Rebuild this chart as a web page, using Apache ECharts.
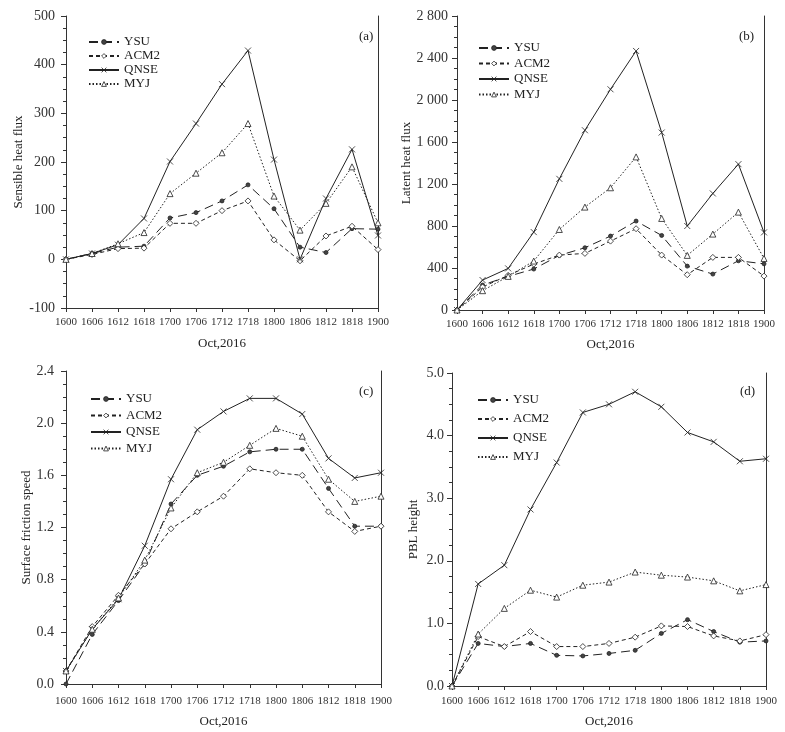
<!DOCTYPE html>
<html>
<head>
<meta charset="utf-8">
<script src="https://cdn.jsdelivr.net/npm/echarts@6/dist/echarts.min.js"></script>
<style>
html, body { margin: 0; padding: 0; background: #fff; }
#main { width: 785px; height: 732px; }
</style>
</head>
<body>
<div id="main"></div>
<script>
//时间类目
const hours = ['1600', '1606', '1612', '1618', '1700', '1706', '1712', '1718', '1800', '1806', '1812', '1818', '1900'];
const schemes = ['YSU', 'ACM2', 'QNSE', 'MYJ'];

//(a) 感热通量
const shfYSU  = [0, 12, 25, 27, 85, 96, 120, 153, 104, 25, 14, 63, 62];
const shfACM2 = [0, 10, 22, 23, 74, 74, 100, 120, 40, -3, 48, 68, 20];
const shfQNSE = [0, 12, 30, 84, 201, 279, 360, 429, 205, 0, 125, 226, 49];
const shfMYJ  = [0, 12, 32, 55, 135, 177, 219, 279, 130, 60, 115, 190, 75];

//(b) 潜热通量
const lhfYSU  = [0, 238, 320, 390, 520, 593, 704, 847, 710, 418, 342, 469, 440];
const lhfACM2 = [0, 219, 330, 437, 523, 539, 656, 774, 523, 336, 501, 501, 323];
const lhfQNSE = [0, 285, 396, 742, 1249, 1712, 2102, 2467, 1690, 800, 1110, 1389, 739];
const lhfMYJ  = [0, 184, 320, 466, 767, 980, 1164, 1458, 872, 520, 723, 932, 491];

//(c) 地表摩擦速度
const ustYSU  = [0.0, 0.38, 0.64, 0.92, 1.38, 1.60, 1.67, 1.78, 1.80, 1.80, 1.50, 1.21, 1.21];
const ustACM2 = [0.1, 0.44, 0.68, 0.92, 1.19, 1.32, 1.44, 1.65, 1.62, 1.60, 1.32, 1.17, 1.21];
const ustQNSE = [0.1, 0.42, 0.65, 1.06, 1.57, 1.95, 2.09, 2.19, 2.19, 2.07, 1.73, 1.58, 1.62];
const ustMYJ  = [0.1, 0.42, 0.66, 0.95, 1.35, 1.62, 1.70, 1.83, 1.96, 1.90, 1.57, 1.40, 1.44];

//(d) 边界层高度
const pblYSU  = [0, 0.68, 0.63, 0.68, 0.49, 0.48, 0.52, 0.57, 0.84, 1.06, 0.87, 0.70, 0.72];
const pblACM2 = [0, 0.79, 0.63, 0.87, 0.63, 0.63, 0.68, 0.78, 0.96, 0.95, 0.80, 0.72, 0.82];
const pblQNSE = [0, 1.63, 1.93, 2.82, 3.57, 4.37, 4.50, 4.70, 4.46, 4.05, 3.90, 3.59, 3.63];
const pblMYJ  = [0, 0.83, 1.24, 1.53, 1.42, 1.61, 1.66, 1.82, 1.77, 1.74, 1.68, 1.52, 1.62];

const ink = '#222';
const font = 'Liberation Serif, Times New Roman, serif';

//线型与符号
const styles = {
    YSU:  { symbol: 'circle', size: 4, type: [9, 5], fill: '#444' },
    ACM2: { symbol: 'diamond', size: 6, type: [4, 3], fill: '#fff' },
    QNSE: { symbol: 'path://M0,0L10,10M10,0L0,10', size: 6, type: 'solid', fill: 'none' },
    MYJ:  { symbol: 'triangle', size: 6, type: [1.5, 2], fill: '#fff' }
};

//面板布局
const panels = [
    { tag: '(a)', name: 'Sensible heat flux', data: [shfYSU, shfACM2, shfQNSE, shfMYJ],
      grid: { left: 66, top: 16, width: 312, height: 292 }, min: -100, max: 500, interval: 100,
      fmt: function (v) { return v; }, yGap: 34, yMargin: 11, xMargin: 9, xGap: 29,
      legend: { left: 88, top: 35, gap: 0 }, tagPos: [354, 25] },
    { tag: '(b)', name: 'Latent heat flux', data: [lhfYSU, lhfACM2, lhfQNSE, lhfMYJ],
      grid: { left: 457, top: 16, width: 307, height: 294 }, min: 0, max: 2800, interval: 400,
      fmt: function (v) { return v >= 1000 ? Math.floor(v / 1000) + ' ' + String(v % 1000).padStart(3, '0') : v; },
      yGap: 43, yMargin: 9, xMargin: 9, xGap: 28,
      legend: { left: 478, top: 41, gap: 1.5 }, tagPos: [734, 25] },
    { tag: '(c)', name: 'Surface friction speed', data: [ustYSU, ustACM2, ustQNSE, ustMYJ],
      grid: { left: 66, top: 371, width: 315, height: 313 }, min: 0, max: 2.4, interval: 0.4,
      fmt: function (v) { return v.toFixed(1); }, yGap: 30, yMargin: 12, xMargin: 12, xGap: 31,
      legend: { left: 90, top: 392, gap: 2.5 }, tagPos: [354, 380] },
    { tag: '(d)', name: 'PBL height', data: [pblYSU, pblACM2, pblQNSE, pblMYJ],
      grid: { left: 452, top: 373, width: 314, height: 313 }, min: 0, max: 5, interval: 1,
      fmt: function (v) { return v.toFixed(1); }, yGap: 32, yMargin: 8, xMargin: 10, xGap: 29,
      legend: { left: 477, top: 393, gap: 5 }, tagPos: [735, 380] }
];

const option = {
    animation: false,
    backgroundColor: '#fff',
    textStyle: { fontFamily: font, color: ink },
    title: [], legend: [], grid: [], xAxis: [], yAxis: [], series: []
};

//图例项
const legendItems = schemes.map(function (s) {
    return {
        name: s,
        itemStyle: { color: styles[s].fill, borderColor: ink, borderWidth: 0.8 }
    };
});

panels.forEach(function (p, i) {
    option.grid.push(p.grid);
    option.title.push({
        text: p.tag, left: p.tagPos[0], top: p.tagPos[1],
        textStyle: { fontFamily: font, fontSize: 13, fontWeight: 'normal', color: ink }
    });
    option.legend.push({
        data: legendItems, orient: 'vertical', left: p.legend.left, top: p.legend.top,
        itemWidth: 30, itemHeight: 6, itemGap: p.legend.gap, padding: 0,
        textStyle: { fontFamily: font, fontSize: 13, color: ink, lineHeight: 14 },
        selectedMode: false
    });
    option.xAxis.push({
        type: 'category', gridIndex: i, data: hours, boundaryGap: false,
        name: 'Oct,2016', nameLocation: 'middle', nameGap: p.xGap,
        nameTextStyle: { fontFamily: font, fontSize: 13, color: ink },
        axisLine: { onZero: false, lineStyle: { color: '#333', width: 1 } },
        axisTick: { show: true, length: 4, lineStyle: { color: '#333' } },
        axisLabel: { fontFamily: font, fontSize: 11, color: '#333', margin: p.xMargin, interval: 0 },
        splitLine: { show: false }
    });
    option.yAxis.push({
        type: 'value', gridIndex: i, min: p.min, max: p.max, interval: p.interval,
        name: p.name, nameLocation: 'middle', nameRotate: 90, nameGap: p.yGap,
        nameTextStyle: { fontFamily: font, fontSize: 13, color: ink },
        axisLine: { show: true, lineStyle: { color: '#333', width: 1 } },
        axisTick: { show: true, length: 5, lineStyle: { color: '#333' } },
        minorTick: { show: true, splitNumber: 4, length: 3, lineStyle: { color: '#333' } },
        axisLabel: { fontFamily: font, fontSize: 14, color: '#333', margin: p.yMargin, formatter: p.fmt },
        splitLine: { show: false }
    });
    //右侧边框
    option.yAxis.push({
        type: 'value', gridIndex: i, position: 'right', min: p.min, max: p.max,
        axisLine: { show: true, lineStyle: { color: '#333', width: 1 } },
        axisTick: { show: false }, axisLabel: { show: false }, splitLine: { show: false }
    });
    schemes.forEach(function (s, k) {
        const st = styles[s];
        option.series.push({
            name: s, type: 'line', xAxisIndex: i, yAxisIndex: i * 2,
            data: p.data[k],
            symbol: st.symbol, symbolSize: st.size, showAllSymbol: true,
            lineStyle: { color: ink, width: 1, type: st.type },
            itemStyle: { color: st.fill, borderColor: ink, borderWidth: 0.8 }
        });
    });
});

const chart = echarts.init(document.getElementById('main'));
chart.setOption(option);
</script>
</body>
</html>
